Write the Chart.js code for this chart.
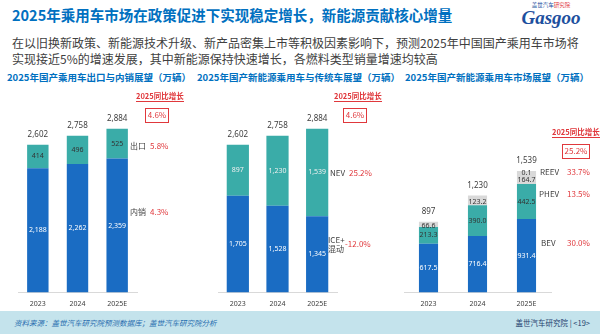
<!DOCTYPE html>
<html>
<head>
<meta charset="utf-8">
<script src="https://cdn.jsdelivr.net/npm/chart.js@4/dist/chart.umd.min.js"></script>
<style>
  body { margin: 0; width: 600px; height: 334px; overflow: hidden; position: relative; background: #fff;
         font-family: "Noto Sans CJK SC", "Noto Sans", sans-serif; color: #404040; }
  .abs { position: absolute; white-space: nowrap; }
  canvas { position: absolute; }
  .title { left: 12px; top: 4px; font-size: 14.5px; font-weight: bold; color: #0070c0; }
  .sub { left: 12px; font-size: 12px; color: #404040; }
  .ctitle { top: 70px; font-size: 9.5px; font-weight: bold; color: #0070c0; }
  .hdr { font-size: 7.5px; color: #e0383c; border-bottom: 1px solid #e0383c; line-height: 11px; font-weight: bold; }
  .box { font-size: 8px; color: #e0383c; border: 1px solid #e0383c; text-align: center; line-height: 12px; }
  .lab { font-size: 8px; color: #404040; line-height: 9px; }
  .pct { font-size: 8px; color: #e0383c; line-height: 9px; }
  .foot { left: 0; top: 311px; width: 600px; height: 23px; background: #c4e3ec; }
</style>
</head>
<body>
<div class="abs title">2025年乘用车市场在政策促进下实现稳定增长，新能源贡献核心增量</div>
<div class="abs" style="left:508px;top:2px;width:86px;text-align:center;">
  <div style="font-size:5.5px;line-height:7px;color:#1d4f9e;">盖世汽车<span style="color:#e0383c">研究院</span></div>
  <div style="font-size:19px;line-height:18px;font-style:italic;font-weight:bold;color:#1d4f9e;font-family:'Liberation Serif',serif;">Gasgoo</div>
</div>
<div class="abs sub" style="top:34px;">在以旧换新政策、新能源技术升级、新产品密集上市等积极因素影响下，预测2025年中国国产乘用车市场将</div>
<div class="abs sub" style="top:50px;">实现接近5%的增速发展，其中新能源保持快速增长，各燃料类型销量增速均较高</div>

<div class="abs ctitle" style="left:7px;">2025年国产乘用车出口与内销展望（万辆）</div>
<div class="abs ctitle" style="left:197px;">2025年国产新能源乘用车与传统车展望（万辆）</div>
<div class="abs ctitle" style="left:405px;">2025年国产新能源乘用车市场展望（万辆）</div>

<canvas id="c1" width="195" height="229" style="left:0;top:88px;"></canvas>
<canvas id="c2" width="200" height="229" style="left:195px;top:88px;"></canvas>
<canvas id="c3" width="205" height="229" style="left:395px;top:88px;"></canvas>

<div id="notes"></div>

<div class="abs foot"></div>
<div class="abs" style="left:14px;top:317px;font-size:7.5px;font-style:italic;color:#2a6fb0;">资料来源：盖世汽车研究院预测数据库；盖世汽车研究院分析</div>
<div class="abs" style="right:10px;top:317px;font-size:7.5px;color:#1f3f6e;">盖世汽车研究院 | &lt;19&gt;</div>

<script>
// ── Data ─────────────────────────────────────────────
const years = ['2023', '2024', '2025E'];

// chart 1: export vs domestic
const domestic = [2188, 2262, 2359];
const exports_ = [414, 496, 525];

// chart 2: NEV vs ICE + hybrid
const iceHybrid = [1705, 1528, 1345];
const nev = [897, 1230, 1539];

// chart 3: NEV by type
const bev = [617.5, 716.4, 931.4];
const phev = [213.3, 390.0, 442.5];
const reev = [66.6, 123.2, 164.7];
const fcev = [null, null, 0.1];

// 2025 YoY growth
const growthLabels1 = ['出口', '内销'];
const growth1 = ['5.8%', '4.3%'];
const growthTotal1 = '4.6%';
const growthLabels2 = ['NEV', 'ICE+<br>混动'];
const growth2 = ['25.2%', '-12.0%'];
const growthTotal2 = '4.6%';
const growthLabels3 = ['REEV', 'PHEV', 'BEV'];
const growth3 = ['33.7%', '13.5%', '30.0%'];
const growthTotal3 = '25.2%';

const BLUE = '#1a6cc3', TEAL = '#3aaca8', GREY = '#d9d9d9';
const FF = '"Noto Sans", "Noto Sans CJK SC", sans-serif';

const fmtInt = v => Math.round(v).toLocaleString('en-US');
const fmt1 = v => v.toFixed(1);

// ── Value labels + totals plugin ─────────────────────
const barLabels = {
  id: 'barLabels',
  afterDatasetsDraw(chart) {
    const ctx = chart.ctx;
    const ys = chart.scales.y, xs = chart.scales.x;
    ctx.save();
    ctx.textAlign = 'center';
    ctx.textBaseline = 'middle';
    ctx.font = '7px ' + FF;
    chart.data.datasets.forEach((ds, di) => {
      chart.getDatasetMeta(di).data.forEach((bar, i) => {
        const v = ds.data[i];
        if (v == null) return;
        const p = bar.getProps(['x', 'y', 'base'], true);
        ctx.fillStyle = ds.labelColor;
        ctx.fillText(ds.fmt(v), p.x, (p.y + p.base) / 2 + (ds.labelDy || 0));
      });
    });
    // totals above stacks
    ctx.font = '8px ' + FF;
    ctx.fillStyle = '#404040';
    years.forEach((_, i) => {
      const sum = chart.data.datasets.reduce((a, ds) => a + (ds.data[i] || 0), 0);
      ctx.fillText(fmtInt(sum), xs.getPixelForValue(i), ys.getPixelForValue(sum) - 10);
    });
    ctx.restore();
  }
};

function makeChart(id, datasets, o) {
  return new Chart(document.getElementById(id), {
    type: 'bar',
    data: { labels: years, datasets },
    options: {
      responsive: false, animation: false,
      layout: { padding: o.pad },
      datasets: { bar: { barPercentage: o.bp, categoryPercentage: 1 } },
      plugins: { legend: { display: false }, tooltip: { enabled: false } },
      scales: {
        x: {
          stacked: true,
          grid: { display: false, drawTicks: false },
          border: { color: '#d9d9d9' },
          ticks: { color: '#404040', font: { family: FF, size: 7 }, padding: 7 },
        },
        y: { stacked: true, display: false, min: 0, max: o.max },
      },
    },
    plugins: [barLabels],
  });
}

makeChart('c1', [
  { data: domestic, backgroundColor: BLUE, labelColor: '#fff', fmt: fmtInt },
  { data: exports_, backgroundColor: TEAL, labelColor: '#333', fmt: fmtInt },
], { pad: { left: 18, right: 58, top: 0, bottom: 2 }, bp: 0.54, max: 3600 });

makeChart('c2', [
  { data: iceHybrid, backgroundColor: BLUE, labelColor: '#fff', fmt: fmtInt },
  { data: nev, backgroundColor: TEAL, labelColor: '#f0f0f0', fmt: fmtInt },
], { pad: { left: 23, right: 58, top: 0, bottom: 2 }, bp: 0.56, max: 3600 });

makeChart('c3', [
  { data: bev, backgroundColor: BLUE, labelColor: '#fff', fmt: fmt1 },
  { data: phev, backgroundColor: TEAL, labelColor: '#333', fmt: fmt1 },
  { data: reev, backgroundColor: GREY, labelColor: '#333', fmt: fmt1, labelDy: 2 },
  { data: fcev, backgroundColor: GREY, labelColor: '#333', fmt: fmt1, labelDy: 2 },
], { pad: { left: 9, right: 49, top: 0, bottom: 2 }, bp: 0.39, max: 2590 });

// ── Growth annotations (HTML text) ───────────────────
const notes = document.getElementById('notes');
function put(cls, html, left, top, extra) {
  const d = document.createElement('div');
  d.className = 'abs ' + cls;
  d.innerHTML = html;
  d.style.left = left + 'px';
  d.style.top = top + 'px';
  if (extra) Object.assign(d.style, extra);
  notes.appendChild(d);
}
function growthBlock(hx, hy, bx, by, bw, total) {
  put('hdr', '2025同比增长', hx, hy);
  put('box', total, bx, by, { width: bw + 'px', height: '13px' });
}
growthBlock(136, 90, 145, 108, 22, growthTotal1);
growthBlock(334, 90, 343, 108, 22, growthTotal2);
growthBlock(552, 126, 562, 144, 26, growthTotal3);

put('lab', growthLabels1[0], 130, 141); put('pct', growth1[0], 150, 141);
put('lab', growthLabels1[1], 130, 207); put('pct', growth1[1], 150, 207);
put('lab', growthLabels2[0], 330, 168); put('pct', growth2[0], 349, 168);
put('lab', growthLabels2[1], 328, 235); put('pct', growth2[1], 345, 239);
put('lab', growthLabels3[0], 540, 167); put('pct', growth3[0], 567, 167);
put('lab', growthLabels3[1], 539, 189); put('pct', growth3[1], 567, 189);
put('lab', growthLabels3[2], 541, 238); put('pct', growth3[2], 567, 238);
</script>
</body>
</html>
